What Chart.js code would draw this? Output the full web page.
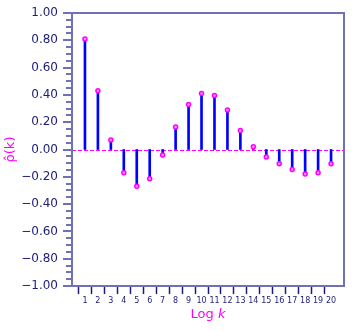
<!DOCTYPE html>
<html>
<head>
<meta charset="utf-8">
<script src="https://cdn.jsdelivr.net/npm/chart.js@4/dist/chart.umd.min.js"></script>
<style>
  html, body { margin: 0; padding: 0; background: #ffffff; }
  #wrap { width: 355px; height: 330px; }
</style>
</head>
<body>
<div id="wrap"><canvas id="acfChart" width="355" height="330"></canvas></div>
<script>
// Lags and sample autocorrelation values
const lags = [1, 2, 3, 4, 5, 6, 7, 8, 9, 10, 11, 12, 13, 14, 15, 16, 17, 18, 19, 20];
const acf = [0.81, 0.43, 0.07, -0.17, -0.27, -0.215, -0.04, 0.165, 0.33, 0.41,
             0.395, 0.29, 0.14, 0.02, -0.055, -0.105, -0.147, -0.18, -0.17, -0.105];
const yMajorTicks = [-1.0, -0.8, -0.6, -0.4, -0.2, 0.0, 0.2, 0.4, 0.6, 0.8, 1.0];
const yMinorStep = 0.05;

const navy = '#1c1c78';
const frameColor = '#7070b4';
const magenta = '#ff00ff';

const points = lags.map((k, i) => ({ x: k, y: acf[i] }));

function isMajor(v) {
    return yMajorTicks.some(m => Math.abs(m - v) < 1e-6);
}

function fmt(v) {
    const s = Math.abs(v).toFixed(2);
    return v < -1e-9 ? '\u2212' + s : s;
}

// zero reference line, frame, and y tick marks (major + minor)
const decorations = {
    id: 'decorations',
    beforeDatasetsDraw(chart) {
        const { ctx, chartArea, scales } = chart;
        const y0 = scales.y.getPixelForValue(0);
        ctx.save();
        ctx.strokeStyle = magenta;
        ctx.lineWidth = 1;
        ctx.setLineDash([4, 2]);
        ctx.beginPath();
        ctx.moveTo(chartArea.left, Math.round(y0) + 0.5);
        ctx.lineTo(chartArea.right, Math.round(y0) + 0.5);
        ctx.stroke();
        ctx.restore();
    },
    afterDraw(chart) {
        const { ctx, chartArea, scales } = chart;
        ctx.save();
        // frame
        ctx.strokeStyle = frameColor;
        ctx.lineWidth = 2;
        ctx.strokeRect(chartArea.left, chartArea.top, chartArea.right - chartArea.left, chartArea.bottom - chartArea.top);
        // y ticks
        const n = Math.round(2 / yMinorStep);
        for (let i = 0; i <= n; i++) {
            const v = -1 + i * yMinorStep;
            const py = Math.round(scales.y.getPixelForValue(v));
            const len = isMajor(v) ? 9 : 6;
            ctx.beginPath();
            ctx.moveTo(chartArea.left - len, py);
            ctx.lineTo(chartArea.left, py);
            ctx.stroke();
        }
        // x axis title with italic k
        const cx = (chartArea.left + chartArea.right) / 2;
        ctx.fillStyle = magenta;
        ctx.textBaseline = 'middle';
        ctx.font = '13px "DejaVu Sans"';
        const w1 = ctx.measureText('Log ').width;
        ctx.font = 'italic 13px "DejaVu Sans"';
        const w2 = ctx.measureText('k').width;
        const startX = cx - (w1 + w2) / 2;
        ctx.textAlign = 'left';
        ctx.font = '13px "DejaVu Sans"';
        ctx.fillText('Log ', startX, 315);
        ctx.font = 'italic 13px "DejaVu Sans"';
        ctx.fillText('k', startX + w1, 315);
        ctx.restore();
    }
};

const ctx = document.getElementById('acfChart').getContext('2d');
const acfChart = new Chart(ctx, {
    type: 'bar',
    data: {
        datasets: [
            {
                type: 'line',
                data: points,
                showLine: false,
                pointRadius: 2,
                pointBorderWidth: 1.5,
                pointBorderColor: magenta,
                pointBackgroundColor: '#ff90ff',
                order: 0
            },
            {
                type: 'bar',
                data: points,
                backgroundColor: '#0000ff',
                borderWidth: 0,
                barThickness: 2,
                order: 1
            }
        ]
    },
    plugins: [decorations],
    options: {
        responsive: false,
        animation: false,
        layout: { padding: { top: 13, right: 11, bottom: 0, left: 0 } },
        plugins: {
            legend: { display: false },
            tooltip: { enabled: false }
        },
        scales: {
            x: {
                type: 'linear',
                min: 0,
                max: 21,
                offset: false,
                afterFit: s => { s.height = 44; s.paddingLeft = 0; s.paddingRight = 0; },
                border: { display: false },
                grid: {
                    drawOnChartArea: false,
                    drawTicks: true,
                    tickLength: 8,
                    tickWidth: 1.5,
                    tickColor: c => (c.tick && c.tick.value >= 1 && c.tick.value <= 20) ? navy : 'rgba(0,0,0,0)'
                },
                ticks: {
                    stepSize: 1,
                    autoSkip: false,
                    maxRotation: 0,
                    padding: 2,
                    color: navy,
                    font: { family: 'DejaVu Sans', size: 8 },
                    callback: v => (v >= 1 && v <= 20) ? String(v) : ''
                }
            },
            y: {
                min: -1,
                max: 1,
                afterFit: s => { s.width = 72; s.paddingTop = 0; s.paddingBottom = 0; },
                afterBuildTicks: s => { s.ticks = yMajorTicks.map(v => ({ value: v })); },
                border: { display: false },
                grid: { display: false, drawTicks: false },
                ticks: {
                    padding: 14,
                    color: navy,
                    font: { family: 'DejaVu Sans', size: 12 },
                    callback: v => fmt(v)
                },
                title: {
                    display: true,
                    text: 'ρ\u0302(k)',
                    color: magenta,
                    font: { family: 'DejaVu Sans', size: 13 },
                    padding: { top: 3, bottom: 0 }
                }
            }
        }
    }
});
</script>
</body>
</html>
